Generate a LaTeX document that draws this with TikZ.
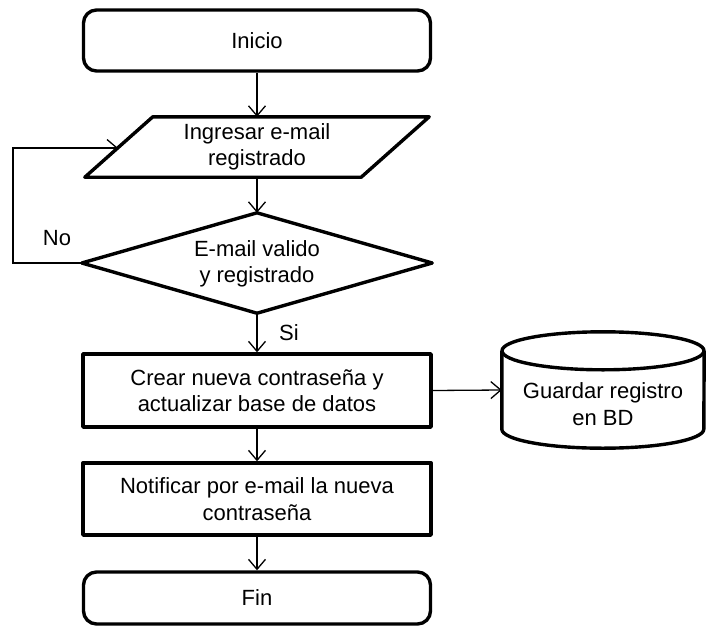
\documentclass[tikz,border=0pt]{standalone}
\usepackage{fontspec}
\setmainfont{Liberation Sans}
\usetikzlibrary{arrows.meta,calc}
\begin{document}
\begin{tikzpicture}[x=1pt,y=-1pt,
  every node/.style={font=\fontsize{22}{26.5}\selectfont, align=center, inner sep=0pt},
  outline/.style={line width=3.4pt, line join=round},
  term/.style={draw, outline, rounded corners=13pt, minimum width=347pt},
  proc/.style={draw, outline, minimum width=348pt, minimum height=73pt},
  ghost/.style={minimum width=#1},
  flow/.style={line width=1.3pt, -{Straight Barb[length=10pt,width=17pt,line width=1.3pt]}},
  lbl/.style={inner sep=0pt}
]
\useasboundingbox (0,0) rectangle (707,627);

% start / end terminals
\node[term, minimum height=61pt] (ini) at (257,40.5) {Inicio};
\node[term, minimum height=52pt] (fin) at (257,598) {Fin};

% input (parallelogram)
\node[ghost=344pt, minimum height=60pt] (inp) at (257,147) {};
\draw[outline] ($(inp.north west)+(68,0)$) -- (inp.north east)
  -- ($(inp.south east)+(-68,0)$) -- (inp.south west) -- cycle;
\node at (257,147) {Ingresar e-mail\\registrado};
\coordinate (inpL) at (118,148);

% decision (diamond)
\node[ghost=350pt, minimum height=100pt] (dec) at (257,263) {};
\draw[outline] (dec.north) -- (dec.east) -- (dec.south) -- (dec.west) -- cycle;
\node at (257,264) {E-mail valido\\y registrado};

% processes
\node[proc] (upd) at (257,390.5) {Crear nueva contraseña y\\actualizar base de datos};
\node[proc, minimum height=72pt] (mail) at (257,499) {Notificar por e-mail la nueva\\contraseña};

% database (cylinder)
\node[ghost=202pt, minimum height=116pt] (db) at (603,390) {};
\draw[outline] ($(db.north west)+(0,19)$) -- ($(db.south west)+(0,-19)$)
  arc[start angle=180, end angle=360, x radius=101pt, y radius=19pt]
  -- ($(db.north east)+(0,19)$);
\draw[outline] ($(db.north)+(0,19)$) ellipse[x radius=101pt, y radius=19pt];
\node at (603,404) {Guardar registro\\en BD};

% connectors
\coordinate (loop) at (13,148);
\draw[flow] (ini.south) -- (inp.north);
\draw[flow] (inp.south) -- (dec.north);
\draw[flow] (dec.west) -| (loop) -- (inpL);
\draw[flow] (dec.south) -- (upd.north);
\draw[flow] (upd.east) -- (db.west);
\draw[flow] (upd.south) -- (mail.north);
\draw[flow] (mail.south) -- (fin.north);

% branch labels
\node[lbl] (no) at (57,238) {No};
\node[lbl] (si) at (289,333) {Si};
\end{tikzpicture}
\end{document}
